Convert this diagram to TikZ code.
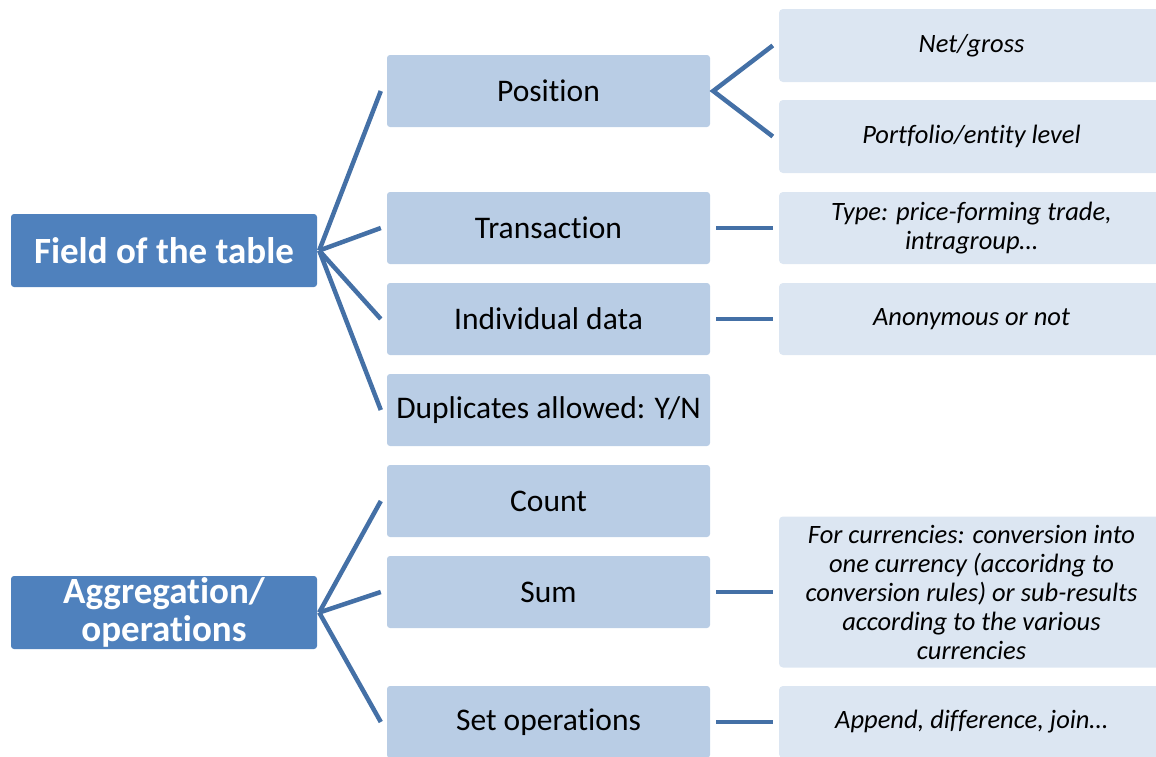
\documentclass[tikz,border=0pt]{standalone}
\usepackage{fontspec}
\setmainfont{Carlito}[Ligatures=NoCommon]
\usepackage{tikz}
\usetikzlibrary{positioning}

\definecolor{rootblue}{HTML}{4F81BD}
\definecolor{midblue}{HTML}{B9CDE5}
\definecolor{leafblue}{HTML}{DCE6F2}
\definecolor{linkblue}{HTML}{4470A6}

\tikzset{
  rootbox/.style={fill=rootblue,rounded corners=3pt,minimum width=306pt,
    minimum height=73pt,text=white,font=\fontsize{37}{38}\selectfont\bfseries,
    align=center,inner sep=0pt},
  midbox/.style={fill=midblue,rounded corners=3pt,minimum width=323pt,
    minimum height=72pt,font=\fontsize{31.5}{34}\selectfont,inner sep=0pt},
  leafbox/.style={fill=leafblue,rounded corners=4pt,minimum width=385pt,
    minimum height=73pt,font=\fontsize{26.5}{29}\selectfont\itshape,
    align=center,inner sep=0pt},
  link/.style={draw=linkblue,line width=4.5pt}
}

\begin{document}
\begin{tikzpicture}[x=1pt,y=-1pt]
  \useasboundingbox
    (0,0)
    rectangle
    (1156,756);
  \clip
    (0,0)
    rectangle
    (1156,756);
  % roots
  \node[rootbox] (field) at (164,250.5) {Field of the table};
  \node[rootbox] (aggr) at (164,612.5) {Aggregation/\\operations};
  % middle column
  \node[midbox] (pos) at (548.5,91) {Position};
  \node[midbox] (trans) at (548.5,228) {Transaction};
  \node[midbox] (indiv) at (548.5,319) {Individual data};
  \node[midbox] (dupl) at (548.5,410) {Duplicates allowed: Y/N};
  \node[midbox] (count) at (548.5,501) {Count};
  \node[midbox] (sum) at (548.5,592) {Sum};
  \node[midbox] (setop) at (548.5,722) {Set operations};
  % right column
  \node[leafbox] (net) at (971.5,45.5) {Net/gross};
  \node[leafbox] (portf) at (971.5,136.5) {Portfolio/entity level};
  \node[leafbox,minimum height=72pt] (type) at (971.5,228)
    {Type: price-forming trade,\\intragroup\dots};
  \node[leafbox,minimum height=72pt] (anon) at (971.5,319) {Anonymous or not};
  \node[leafbox,minimum height=151pt] (curr) at (971.5,592)
    {For currencies: conversion into\\one currency (accoridng to\\
     conversion rules) or sub-results\\according to the various\\currencies};
  \node[leafbox,minimum height=72pt] (appnd) at (971.5,722)
    {Append, difference, join\dots};
  % links
  \foreach \m in {pos,trans,indiv,dupl}
    \draw[link]
      ([xshift=2pt]field.east)
      --
      ([xshift=-6pt]\m.west);
  \foreach \m in {count,sum,setop}
    \draw[link]
      ([xshift=2pt]aggr.east)
      --
      ([xshift=-6pt]\m.west);
  \draw[link]
    ([xshift=-6pt]net.west)
    --
    ([xshift=3pt]pos.east)
    --
    ([xshift=-6pt]portf.west);
  \draw[link]
    ([xshift=6pt]trans.east)
    --
    ([xshift=-6pt]type.west);
  \draw[link]
    ([xshift=6pt]indiv.east)
    --
    ([xshift=-6pt]anon.west);
  \draw[link]
    ([xshift=6pt]sum.east)
    --
    ([xshift=-6pt]curr.west);
  \draw[link]
    ([xshift=6pt]setop.east)
    --
    ([xshift=-6pt]appnd.west);
\end{tikzpicture}
\end{document}
